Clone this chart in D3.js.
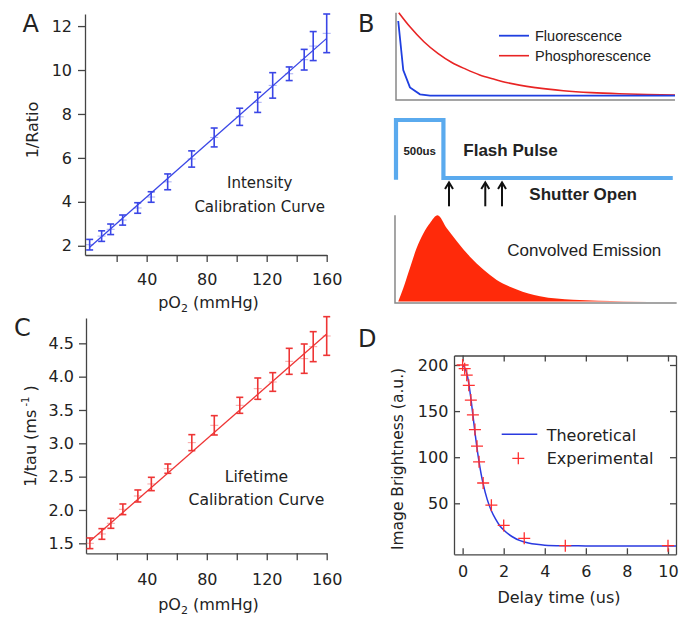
<!DOCTYPE html>
<html><head><meta charset="utf-8">
<script src="https://cdn.jsdelivr.net/npm/d3@7"></script>
<style>body{margin:0;background:#fff} svg{display:block}</style>
</head><body><svg id="c" width="687" height="623"></svg>
<script>
// ---------- DATA ----------
// Panel A / C : calibration curves
const pO2 = [2, 10, 16, 24, 34, 43, 54, 70, 85, 102, 114, 124, 135, 145, 151, 160];
const ratioInv = [2.05, 2.44, 2.75, 3.17, 3.72, 4.22, 4.91, 5.95, 6.93, 7.87, 8.53, 9.30, 9.83, 10.47, 11.09, 11.67];
const ratioErr = [0.24, 0.24, 0.24, 0.23, 0.24, 0.24, 0.36, 0.37, 0.43, 0.39, 0.46, 0.58, 0.31, 0.47, 0.66, 0.88];
const ratioFitX = [2, 160];
const ratioFitY = [1.93, 11.44];
const tauInv = [1.50, 1.64, 1.80, 2.01, 2.21, 2.39, 2.62, 3.01, 3.27, 3.57, 3.82, 3.92, 4.23, 4.27, 4.45, 4.61];
const tauErr = [0.08, 0.08, 0.075, 0.08, 0.09, 0.10, 0.07, 0.12, 0.145, 0.12, 0.16, 0.14, 0.195, 0.22, 0.225, 0.29];
const tauFitX = [2, 160];
const tauFitY = [1.53, 4.64];
const pO2Ticks = [20, 40, 60, 80, 100, 120, 140, 160];
const ratioTicks = [2, 4, 6, 8, 10, 12];
const tauTicks = [1.5, 2.0, 2.5, 3.0, 3.5, 4.0, 4.5];

// Panel B : schematic (time in arbitrary units 0-100)
const fluorT = [0.8, 2.6, 5.0, 8.6, 12.2, 100];
const fluorV = [0.90, 0.31, 0.10, 0.017, 0, 0];
const phosT = [1, 5, 10, 15, 20, 25, 30, 35, 40, 50, 60, 70, 80, 90, 100];
const phosV = [1.0, 0.83, 0.65, 0.51, 0.40, 0.32, 0.25, 0.20, 0.155, 0.097, 0.06, 0.037, 0.023, 0.014, 0.009];
const pulseT = [0, 0, 17, 17, 99.2];
const pulseV = [-0.03, 1, 1, 0, 0];
const shutterT = [19, 32, 38];
const convT = [0.8, 2.6, 5.0, 7.4, 9.8, 12.2, 14.9, 18.2, 21.8, 26.5, 31.3, 36.1, 43.3, 51.6, 63.5, 81.5, 99.3];
const convV = [0, 0.155, 0.39, 0.62, 0.79, 0.91, 1.0, 0.85, 0.70, 0.52, 0.37, 0.25, 0.14, 0.06, 0.02, 0.003, 0];

// Panel D : delay time
const expT = [0, 0.1, 0.2, 0.3, 0.4, 0.5, 0.6, 0.7, 0.8, 1.0, 1.4, 2, 3, 5, 10];
const expV = [200, 196, 189, 178, 162, 146, 130, 112, 95, 72, 48, 26, 12, 4, 4];
const theoT = [0, 0.1, 0.2, 0.3, 0.4, 0.5, 0.6, 0.7, 0.8, 0.9, 1.0, 1.2, 1.4, 1.6, 1.8, 2.0, 2.4, 2.8, 3.2, 3.6, 4.0, 5, 6, 8, 10.39];
const theoV = [200, 197, 191, 180, 164, 146, 127, 110, 95, 82, 71, 54, 42, 33, 26, 21, 14, 9.5, 7, 5.5, 4.6, 4, 3.8, 3.7, 3.7];
const delayTicks = [0, 2, 4, 6, 8, 10];
const brightTicks = [50, 100, 150, 200];

// ---------- DRAW ----------
const svg = d3.select("#c");
const FONT = "DejaVu Sans";
const AFONT = "Liberation Sans";
const TXT = "#222";
const AX = "#444";

function styleAxis(g, size) {
  g.attr("font-family", FONT).attr("font-size", size);
  g.selectAll("path,line").attr("stroke", AX).attr("stroke-width", 1.3);
  g.selectAll("text").attr("fill", TXT);
}
function label(x, y, txt, opts = {}) {
  return svg.append("text").attr("x", x).attr("y", y).text(txt)
    .attr("font-family", opts.family || FONT).attr("font-size", opts.size || 16)
    .attr("font-weight", opts.weight || "normal")
    .attr("text-anchor", opts.anchor || "start").attr("fill", TXT);
}

// ---- calibration panel builder ----
function calPanel(cfg) {
  const x = d3.scaleLinear().domain(cfg.xDom).range(cfg.xRange);
  const y = d3.scaleLinear().domain(cfg.yDom).range(cfg.yRange);
  const gx = svg.append("g").attr("transform", `translate(0,${cfg.yRange[0]})`)
    .call(d3.axisBottom(x).tickValues(pO2Ticks).tickFormat(d => d % 40 === 0 ? d : "")
      .tickSize(7).tickSizeOuter(0).tickPadding(cfg.xPad));
  styleAxis(gx, 16);
  const gy = svg.append("g").attr("transform", `translate(${cfg.xRange[0]},0)`)
    .call(d3.axisLeft(y).tickValues(cfg.yTicks).tickFormat(cfg.yFmt)
      .tickSize(7).tickSizeOuter(0).tickPadding(cfg.yPad));
  styleAxis(gy, 16);

  const g = svg.append("g");
  // fit line
  g.append("path").datum(cfg.fitX.map((v, i) => [v, cfg.fitY[i]]))
    .attr("d", d3.line().x(d => x(d[0])).y(d => y(d[1])))
    .attr("fill", "none").attr("stroke", cfg.color).attr("stroke-width", 1.3);
  const pts = pO2.map((p, i) => ({p, v: cfg.vals[i], e: cfg.errs[i]}));
  const eb = g.selectAll("g.eb").data(pts).join("g").attr("stroke", cfg.color).attr("stroke-width", 1.6);
  eb.append("line").attr("x1", d => x(d.p)).attr("x2", d => x(d.p))
    .attr("y1", d => y(d.v - d.e)).attr("y2", d => y(d.v + d.e));
  eb.append("line").attr("x1", d => x(d.p) - 3.5).attr("x2", d => x(d.p) + 3.5)
    .attr("y1", d => y(d.v - d.e)).attr("y2", d => y(d.v - d.e));
  eb.append("line").attr("x1", d => x(d.p) - 3.5).attr("x2", d => x(d.p) + 3.5)
    .attr("y1", d => y(d.v + d.e)).attr("y2", d => y(d.v + d.e));
  eb.append("line").attr("x1", d => x(d.p) - 4).attr("x2", d => x(d.p) + 4)
    .attr("y1", d => y(d.v)).attr("y2", d => y(d.v)).attr("stroke-opacity", 0.45).attr("stroke-width", 1);
}

// Panel A
calPanel({xDom: [-1.1, 160], xRange: [85, 326.7], yDom: [1.58, 12.55], yRange: [255, 14],
  yTicks: ratioTicks, yFmt: d3.format("d"), xPad: 11.6, yPad: 6, yPadV: 0,
  vals: ratioInv, errs: ratioErr, fitX: ratioFitX, fitY: ratioFitY, color: "#3a46e6"});
// Panel C
calPanel({xDom: [-0.6, 160], xRange: [86, 326.7], yDom: [1.35, 4.88], yRange: [553.3, 318],
  yTicks: tauTicks, yFmt: d3.format(".1f"), xPad: 13.3, yPad: 5,
  vals: tauInv, errs: tauErr, fitX: tauFitX, fitY: tauFitY, color: "#ee3535"});

// labels A
label(22.5, 32.3, "A", {size: 24});
svg.append("text").attr("transform", "translate(38,130) rotate(-90)").attr("text-anchor", "middle")
  .attr("font-family", FONT).attr("font-size", 16).attr("fill", TXT).text("1/Ratio");
function pO2Label(cx, by) {
  const t = svg.append("text").attr("x", cx).attr("y", by).attr("text-anchor", "middle")
    .attr("font-family", FONT).attr("font-size", 16).attr("fill", TXT);
  t.append("tspan").text("pO");
  t.append("tspan").text("2").attr("font-size", 11).attr("dy", 4);
  t.append("tspan").text(" (mmHg)").attr("dy", -4);
}
pO2Label(208.5, 308);
label(259.7, 188.3, "Intensity", {size: 15, anchor: "middle"});
label(259.7, 212.3, "Calibration Curve", {size: 15, anchor: "middle"});

// labels C
label(14, 336, "C", {size: 24});
{
  const t = svg.append("text").attr("transform", "translate(36,436) rotate(-90)").attr("text-anchor", "middle")
    .attr("font-family", FONT).attr("font-size", 16).attr("fill", TXT);
  t.append("tspan").text("1/tau (ms");
  t.append("tspan").text(" -1").attr("font-size", 10).attr("dy", -7);
  t.append("tspan").text(" )").attr("dy", 7);
}
pO2Label(208.5, 610);
label(256.5, 481.7, "Lifetime", {size: 15.6, anchor: "middle"});
label(256.5, 505, "Calibration Curve", {size: 15.6, anchor: "middle"});

// ---- Panel B ----
label(358, 31.7, "B", {size: 24});
const xB = d3.scaleLinear().domain([0, 100]).range([396, 675]);
const yTop = d3.scaleLinear().domain([0, 1]).range([95.7, 12.7]);
const yPulse = d3.scaleLinear().domain([0, 1]).range([178, 120]);
const yConv = d3.scaleLinear().domain([0, 1]).range([301.5, 215.3]);
// axes (L-shaped)
svg.append("path").attr("d", `M${xB(0)},${yTop(1)}V${yTop(-0.052)}H${xB(100)}`)
  .attr("fill", "none").attr("stroke", "#888").attr("stroke-width", 1.5);
svg.append("path").attr("d", `M${xB(-0.36)},${yConv(1.0)}V${yConv(-0.018)}H${xB(100.6)}`)
  .attr("fill", "none").attr("stroke", "#888").attr("stroke-width", 1.5);
// phosphorescence / fluorescence
svg.append("path").datum(phosT.map((t, i) => [t, phosV[i]]))
  .attr("d", d3.line().x(d => xB(d[0])).y(d => yTop(d[1])).curve(d3.curveMonotoneX))
  .attr("fill", "none").attr("stroke", "#e82424").attr("stroke-width", 1.6);
svg.append("path").datum(fluorT.map((t, i) => [t, fluorV[i]]))
  .attr("d", d3.line().x(d => xB(d[0])).y(d => yTop(d[1])))
  .attr("fill", "none").attr("stroke", "#1f3fe0").attr("stroke-width", 1.8);
// legend B
svg.append("line").attr("x1", 499).attr("x2", 529).attr("y1", 35.7).attr("y2", 35.7)
  .attr("stroke", "#1f3fe0").attr("stroke-width", 1.8);
svg.append("line").attr("x1", 499).attr("x2", 529).attr("y1", 55.7).attr("y2", 55.7)
  .attr("stroke", "#e82424").attr("stroke-width", 1.6);
label(535, 41, "Fluorescence", {family: AFONT, size: 14.5});
label(535, 61, "Phosphorescence", {family: AFONT, size: 14.5});
// flash pulse
svg.append("path").datum(pulseT.map((t, i) => [t, pulseV[i]]))
  .attr("d", d3.line().x(d => xB(d[0])).y(d => yPulse(d[1])))
  .attr("fill", "none").attr("stroke", "#5aaaee").attr("stroke-width", 4.2).attr("stroke-linejoin", "miter");
label(xB((pulseT[1] + pulseT[2]) / 2), 155.3, "500us", {family: AFONT, size: 11.5, weight: "bold", anchor: "middle"});
label(463.3, 155.7, "Flash Pulse", {family: AFONT, size: 17, weight: "bold"});
// shutter arrows
const arr = svg.selectAll("g.arr").data(shutterT).join("g")
  .attr("stroke", "#111").attr("stroke-width", 2).attr("fill", "none");
arr.append("line").attr("x1", d => xB(d)).attr("x2", d => xB(d)).attr("y1", 206.3).attr("y2", 183);
arr.append("path").attr("d", d => `M${xB(d) - 4},${189}L${xB(d)},${182.5}L${xB(d) + 4},${189}`);
label(529.3, 199.7, "Shutter Open", {family: AFONT, size: 17, weight: "bold"});
// convolved emission
svg.append("path").datum(convT.map((t, i) => [t, convV[i]]))
  .attr("d", d3.area().x(d => xB(d[0])).y0(yConv(0)).y1(d => yConv(d[1])).curve(d3.curveMonotoneX))
  .attr("fill", "#ff2a0a");
label(507.3, 255.7, "Convolved Emission", {family: AFONT, size: 17});

// ---- Panel D ----
label(358, 346.7, "D", {size: 24});
const xD = d3.scaleLinear().domain([-0.42, 10.39]).range([454, 676]);
const yD = d3.scaleLinear().domain([-5.3, 210.3]).range([554.3, 355.5]);
const gxb = svg.append("g").attr("transform", `translate(0,${yD.range()[0]})`)
  .call(d3.axisBottom(xD).tickValues(delayTicks).tickSize(-6).tickSizeOuter(0).tickPadding(11.6));
styleAxis(gxb, 16);
const gxt = svg.append("g").attr("transform", `translate(0,${yD.range()[1]})`)
  .call(d3.axisTop(xD).tickValues(delayTicks).tickFormat("").tickSize(-6).tickSizeOuter(0));
styleAxis(gxt, 16);
const gyl = svg.append("g").attr("transform", `translate(${xD.range()[0]},0)`)
  .call(d3.axisLeft(yD).tickValues(brightTicks).tickSize(-6).tickSizeOuter(0).tickPadding(5.7));
styleAxis(gyl, 16);
const gyr = svg.append("g").attr("transform", `translate(${xD.range()[1]},0)`)
  .call(d3.axisRight(yD).tickValues(brightTicks).tickFormat("").tickSize(-6).tickSizeOuter(0));
styleAxis(gyr, 16);
// theoretical
svg.append("path").datum(theoT.map((t, i) => [t, theoV[i]]))
  .attr("d", d3.line().x(d => xD(d[0])).y(d => yD(d[1])).curve(d3.curveMonotoneX))
  .attr("fill", "none").attr("stroke", "#2a3ae0").attr("stroke-width", 1.5);
// experimental crosses
const plus = (cx, cy, r) => `M${cx - r},${cy}H${cx + r}M${cx},${cy - r}V${cy + r}`;
svg.append("g").selectAll("path").data(expT.map((t, i) => [t, expV[i]])).join("path")
  .attr("d", d => plus(xD(d[0]), yD(d[1]), 6))
  .attr("stroke", "#ff3030").attr("stroke-width", 1.3).attr("fill", "none");
// legend D
svg.append("line").attr("x1", 501.7).attr("x2", 537.3).attr("y1", 434.3).attr("y2", 434.3)
  .attr("stroke", "#2a3ae0").attr("stroke-width", 1.5);
svg.append("path").attr("d", plus(518.3, 458.3, 6)).attr("stroke", "#ff3030").attr("stroke-width", 1.3);
label(546.7, 440.7, "Theoretical", {size: 16});
label(546.7, 464.3, "Experimental", {size: 16});
// axis labels D
svg.append("text").attr("transform", "translate(403,459) rotate(-90)").attr("text-anchor", "middle")
  .attr("font-family", FONT).attr("font-size", 15.5).attr("fill", TXT).text("Image Brightness (a.u.)");
label(559, 603.3, "Delay time (us)", {size: 16, anchor: "middle"});
</script></body></html>
